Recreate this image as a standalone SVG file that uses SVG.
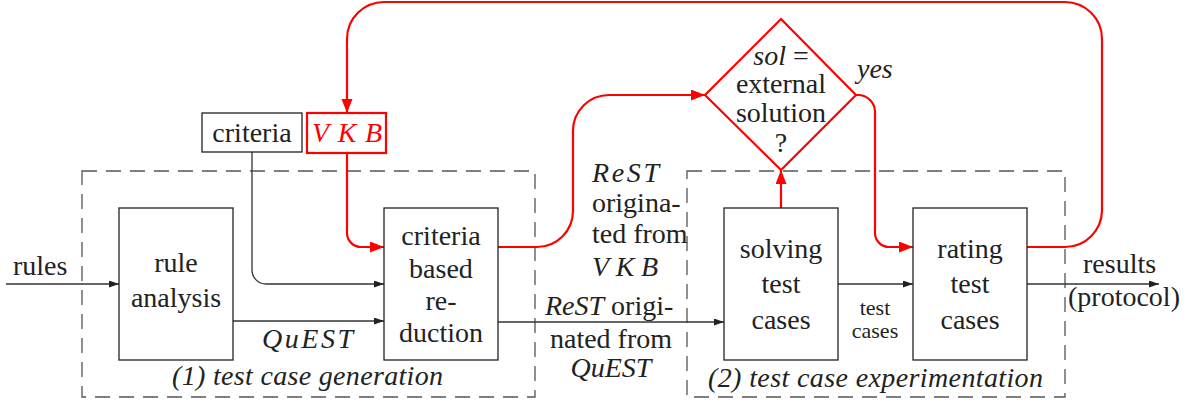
<svg xmlns="http://www.w3.org/2000/svg" width="1191" height="405" viewBox="0 0 1191 405" font-family="'Liberation Serif', 'Times New Roman', Times, 'DejaVu Serif', serif">
<style>
text{font-size:28px;fill:#222}
.it{font-style:italic}
.red{fill:#ff0000}
.c{text-anchor:middle}
.box{fill:#fff;stroke:#222;stroke-width:1.3}
.rbox{fill:#fff;stroke:#ff0000;stroke-width:2.2}
.dash{fill:none;stroke:#555;stroke-width:1.3;stroke-dasharray:15 9}
.bl{fill:none;stroke:#333;stroke-width:1.3}
.rl{fill:none;stroke:#ff0000;stroke-width:2.2}
.sm{font-size:22px}
</style>
<defs>
<marker id="ab" markerUnits="userSpaceOnUse" markerWidth="11" markerHeight="8" refX="10" refY="3.5" orient="auto"><path d="M0,0 L10,3.5 L0,7 z" fill="#222"/></marker>
<marker id="ar" markerUnits="userSpaceOnUse" markerWidth="15" markerHeight="12" refX="14" refY="5.5" orient="auto"><path d="M0,0 L14,5.5 L0,11 z" fill="#ff0000"/></marker>
</defs>
<g id="groups">
<rect id="group1" class="dash" x="82" y="171" width="453" height="226"/>
<rect id="group2" class="dash" x="687" y="171" width="378" height="226"/>
</g>
<g id="connectors">
<path class="bl" d="M6 284 H119" marker-end="url(#ab)"/>
<path class="bl" d="M252 152 V270 A14 14 0 0 0 266 284 H384" marker-end="url(#ab)"/>
<path class="bl" d="M233 321 H384" marker-end="url(#ab)"/>
<path class="bl" d="M498 322 H724" marker-end="url(#ab)"/>
<path class="bl" d="M838 284 H913" marker-end="url(#ab)"/>
<path class="bl" d="M1027 284 H1159" marker-end="url(#ab)"/>
<path class="rl" d="M347 153 V233 A14 14 0 0 0 361 247 H384" marker-end="url(#ar)"/>
<path class="rl" d="M498 247 H537 A36 36 0 0 0 573 211 V131 A36 36 0 0 1 609 95 H705" marker-end="url(#ar)"/>
<path class="rl" d="M781 208 V170" marker-end="url(#ar)"/>
<path class="rl" d="M856 95 H858 A17 17 0 0 1 875 112 V233 A14 14 0 0 0 889 247 H913" marker-end="url(#ar)"/>
<path class="rl" d="M1027 247 H1065 A37 37 0 0 0 1102 210 V39 A37 37 0 0 0 1065 2 H384 A37 37 0 0 0 347 39 V113" marker-end="url(#ar)"/>
</g>
<g id="criteria"><rect class="box" x="202" y="113" width="100" height="39"/><text class="c" x="252" y="142">criteria</text></g>
<g id="vkb"><rect class="rbox" x="307" y="113" width="79" height="40"/><text class="it red c" x="347" y="142" textLength="70" lengthAdjust="spacing">VKB</text></g>
<g id="rule-analysis"><rect class="box" x="119" y="208" width="114" height="152"/><text class="c" x="176" y="272">rule</text><text class="c" x="176" y="307">analysis</text></g>
<g id="reduction"><rect class="box" x="384" y="208" width="114" height="152"/><text class="c" x="441" y="245">criteria</text><text class="c" x="441" y="278">based</text><text class="c" x="441" y="310">re-</text><text class="c" x="441" y="342">duction</text></g>
<g id="decision"><polygon class="rbox" points="781,19 856,95 781,170 705,95"/><text class="c" x="781" y="65"><tspan class="it">sol</tspan> =</text><text class="c" x="781" y="93">external</text><text class="c" x="781" y="122">solution</text><text class="c" x="781" y="152">?</text></g>
<g id="solving"><rect class="box" x="724" y="208" width="114" height="152"/><text class="c" x="781" y="258">solving</text><text class="c" x="781" y="293">test</text><text class="c" x="781" y="329">cases</text></g>
<g id="rating"><rect class="box" x="913" y="208" width="114" height="152"/><text class="c" x="970" y="258">rating</text><text class="c" x="970" y="293">test</text><text class="c" x="970" y="329">cases</text></g>
<g id="labels">
<text x="13" y="275">rules</text>
<text class="it" x="262" y="348" textLength="91" lengthAdjust="spacing">QuEST</text>
<text class="it" x="172" y="385" textLength="271" lengthAdjust="spacing">(1) test case generation</text>
<text class="it" x="592" y="182" textLength="67" lengthAdjust="spacing">ReST</text>
<text x="592" y="212">origina-</text>
<text x="592" y="243">ted from</text>
<text class="it" x="592" y="276" textLength="66" lengthAdjust="spacing">VKB</text>
<text x="545" y="315"><tspan class="it">ReST</tspan> origi-</text>
<text class="c" x="611" y="348">nated from</text>
<text class="it c" x="611" y="377">QuEST</text>
<text class="it" x="857" y="78">yes</text>
<text class="c sm" x="875" y="315">test</text>
<text class="c sm" x="875" y="338">cases</text>
<text x="1083" y="273">results</text>
<text x="1068" y="306">(protocol)</text>
<text class="it" x="708" y="387" textLength="335" lengthAdjust="spacing">(2) test case experimentation</text>
</g>
</svg>
